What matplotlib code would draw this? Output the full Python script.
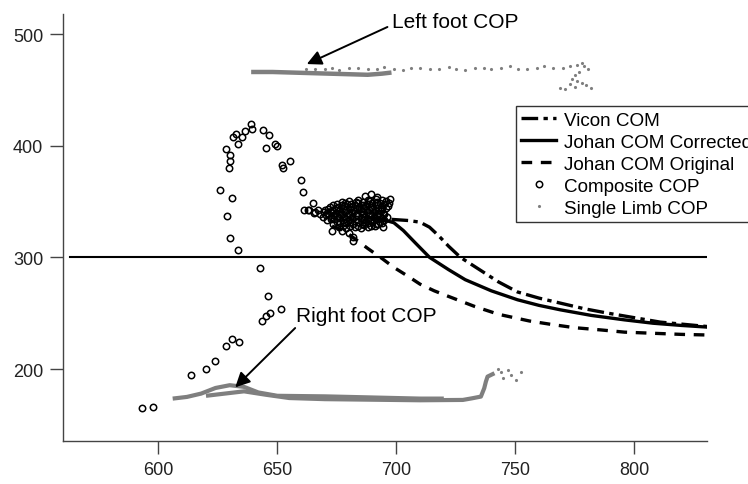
import numpy as np
from matplotlib import pyplot as plt

plt.rcParams['font.family'] = ['Liberation Sans', 'DejaVu Sans']

# COM trajectories (x, y)
vicon_x = [698, 705, 710, 714, 718, 722, 727, 735, 743, 751, 760, 769, 779, 789, 800, 811, 821, 831]
vicon_y = [334, 333, 331.5, 327, 319, 310, 300, 289, 278, 269, 263.5, 259, 254, 250, 246, 242, 240, 238]

corr_x = [688, 694, 699, 703, 708, 714, 722, 729, 740, 751, 760, 769, 782, 796, 808, 820, 831]
corr_y = [336, 334, 331, 324, 313, 300, 289, 280, 270, 262, 257, 253, 248, 244, 241, 239, 237.5]

orig_x = [673, 678, 683, 688, 694, 699, 705, 710, 716, 722, 733, 743, 756, 765, 775, 786, 796, 808, 820, 830]
orig_y = [328, 324, 316, 308, 299, 291, 283, 276, 270, 265, 256, 249, 243, 240, 237, 235, 233, 232, 231, 230.5]

# Composite COP circles
comp_x = [593.1, 597.6, 613.8, 619.9, 624.0, 628.3, 630.9, 634.0, 643.5, 645.3, 647.1, 651.6,
          646.0, 642.6, 633.4, 630.3, 628.9, 630.9, 626.0, 629.5, 630.0, 630.3, 628.5, 633.4,
          631.4, 632.8, 635.0, 636.2, 639.0, 639.4, 644.0, 646.6, 645.2, 649.1, 649.7, 651.8,
          652.3, 655.4, 659.8, 660.7, 665.0, 661.3, 663.3, 665.5, 667.0,
          # dense cluster
          676, 679, 682.5, 685, 688, 691, 694.5,
          673.5, 676.5, 679, 682, 685.5, 688, 691.5, 694,
          671, 674, 677.5, 680, 683, 686.5, 689, 692, 695,
          669, 672.5, 675, 678, 681.5, 684, 687, 690.5, 693, 696,
          668, 671, 674.5, 677, 680, 683.5, 686, 689, 692.5, 695,
          670, 673, 676.5, 679, 682, 685, 688.5, 691, 694,
          672, 675.5, 678, 681, 684.5, 687, 690, 693.5, 696.5,
          675, 678.5, 681, 684, 687.5, 690, 693, 697,
          684, 688, 691.5, 694, 697.5, 687, 689.5, 692,
          673, 677, 682, 682, 680, 666, 663,
          677.5, 680.5, 684, 686.5, 689.5, 692.5,
          675, 678, 680.5, 684, 687, 690, 693,
          672.5, 676, 679, 681.5, 685, 688, 691, 694,
          670.5, 673.5, 676.5, 680, 683, 685.5, 689, 692, 694.5,
          669.5, 672.5, 676, 678.5, 681.5, 685, 687.5, 690.5, 693.5,
          671.5, 674.5, 677.5, 680.5, 683.5, 686.5, 690, 692.5, 695.5,
          673.5, 677, 679.5, 682.5, 686, 688.5, 691.5, 695,
          677, 680, 683, 686, 689, 692, 695.5]
comp_y = [165.0, 166.0, 195.0, 200.0, 207.0, 221.0, 227.0, 224.5, 243.0, 247.5, 250.0, 254.0,
          265.6, 290.5, 306.6, 317.0, 337.0, 352.7, 360.5, 380.0, 386.0, 392.0, 397.0, 401.6,
          407.5, 410.8, 408.0, 413.0, 419.6, 414.8, 414.0, 410.0, 398.0, 401.7, 400.0, 383.0,
          379.6, 386.5, 369.5, 358.4, 349.0, 342.5, 342.0, 340.0, 342.0,
          327, 326, 327.5, 326.5, 327, 328, 327.5,
          330, 331, 330.5, 329.5, 330, 331, 330, 331,
          333, 334, 333.5, 333, 334, 333, 333.5, 334, 333,
          336, 336.5, 337, 336, 336.5, 337, 336, 336.5, 337, 336,
          339, 339.5, 340, 339, 339.5, 340, 339, 339.5, 340, 339,
          342, 342.5, 343, 342, 342.5, 343, 342, 342.5, 343,
          345, 345.5, 346, 345, 345.5, 346, 345, 345.5, 346,
          348, 348.5, 348, 348.5, 348, 349, 348.5, 349,
          351, 351.5, 352, 351, 352, 355, 356.5, 354,
          324, 323.5, 318, 315, 322, 341, 342.5,
          328.5, 328, 328.5, 329, 328.5, 329.5,
          331.5, 332, 331.5, 332, 331.5, 332.5, 332,
          334.5, 335, 334.5, 335.5, 335, 334.5, 335, 335.5,
          337.5, 338, 338.5, 337.5, 338, 338.5, 337.5, 338, 338.5,
          340.5, 341, 341.5, 340.5, 341, 341.5, 340.5, 341, 341.5,
          343.5, 344, 344.5, 343.5, 344, 344.5, 343.5, 344, 344.5,
          346.5, 347, 347.5, 346.5, 347, 347.5, 347, 347.5,
          350, 350.5, 349.5, 350, 350.5, 350, 350.5]

# Single limb COP: dense tracks and sparse samples
left_band_x = [639, 648, 656, 664, 672, 680, 688, 694, 698]
left_band_y = [466, 466, 465.5, 465, 464.5, 464, 463.5, 464.5, 465.5]
right_a_x = [606, 612, 618, 624, 630, 636, 642, 650, 670, 690, 700, 710, 720]
right_a_y = [173.5, 175, 178, 183, 185.5, 184, 179, 176, 175.5, 174.5, 174, 173.5, 173.5]
right_b_x = [620, 628, 636, 645, 655, 670, 690, 710, 728, 732, 735.6, 737, 737.7, 738.4, 741.3]
right_b_y = [176, 178, 180, 177, 174, 173, 172.5, 172, 172.3, 173.8, 175.3, 182.8, 188.7, 193.2, 196.2]

sparse_x = [662, 666, 670, 673, 676, 680, 684, 688, 692, 695, 699, 703, 706, 710, 714, 718,
            722, 725, 729, 733, 737, 740, 744, 748, 751, 755, 759, 762, 766, 770, 773, 776,
            778, 779, 780.5, 777, 775, 774, 776, 778, 780, 782, 775, 771, 769, 773,
            744, 746.8, 748.3, 750.4, 752.5, 742.6, 745]
sparse_y = [469, 468.5, 469, 470, 468, 469.5, 470, 468.5, 469, 470.5, 469, 468, 469.5, 470, 468.5, 469,
            470.5, 469, 468, 470, 469.5, 468.5, 470, 471, 469, 468.5, 470, 471, 469.5, 470, 471.5, 472,
            474, 471, 469, 466, 463, 460, 458, 456, 454, 452, 453, 451, 451.5, 455,
            197.6, 199, 194.6, 190, 197.6, 200, 192]

# horizontal reference line
ref_x = [563, 831]
ref_y = [300, 300]

fig = plt.figure(figsize=(7.48, 4.85), dpi=100)
ax = fig.add_axes([0.0846, 0.0893, 0.861, 0.8797])

grey = '#7f7f7f'
ax.plot(left_band_x, left_band_y, color=grey, lw=3.2, solid_capstyle='butt')
ax.plot(right_a_x, right_a_y, color=grey, lw=3.0, solid_capstyle='butt')
ax.plot(right_b_x, right_b_y, color=grey, lw=3.0, solid_capstyle='butt')

ax.plot(ref_x, ref_y, color='black', lw=1.5)

ax.plot(vicon_x, vicon_y, color='black', lw=2.4, dashes=(5, 1.6, 1.3, 1.6), label='Vicon COM')
ax.plot(corr_x, corr_y, color='black', lw=2.4, label='Johan COM Corrected')
ax.plot(orig_x, orig_y, color='black', lw=2.4, dashes=(3.2, 2.6), label='Johan COM Original')
ax.plot(comp_x, comp_y, ls='none', marker='o', ms=4.6, mfc='none', mec='black', mew=1.1,
        label='Composite COP')
ax.plot(sparse_x, sparse_y, ls='none', marker='.', ms=2.5, color=grey, label='Single Limb COP')

ax.annotate('', xy=(662.4, 473.1), xytext=(696.3, 506.3),
            arrowprops=dict(arrowstyle='-|>', color='black', lw=1.4, mutation_scale=22,
                            shrinkA=0, shrinkB=0))
ax.text(698.4, 506.5, 'Left foot COP', fontsize=15, va='baseline', ha='left')
ax.annotate('', xy=(632.3, 183.6), xytext=(657.5, 236.7),
            arrowprops=dict(arrowstyle='-|>', color='black', lw=1.4, mutation_scale=22,
                            shrinkA=0, shrinkB=0))
ax.text(657.7, 242.7, 'Right foot COP', fontsize=15, va='baseline', ha='left')

ax.set_xlim(560, 830.8)
ax.set_ylim(135.8, 517.9)
ax.set_xticks([600, 650, 700, 750, 800])
ax.set_yticks([200, 300, 400, 500])
for s in ['top', 'right']:
    ax.spines[s].set_visible(False)
for s in ['left', 'bottom']:
    ax.spines[s].set_color('#444444')
    ax.spines[s].set_linewidth(1.0)
ax.tick_params(direction='out', length=9.5, width=1.0, color='#444444',
               labelsize=13, labelcolor='#222222', pad=5)

# legend runs past the right edge of the figure, as in the original
leg = ax.legend(loc='upper left', bbox_to_anchor=(0.6894, 0.7794), bbox_transform=fig.transFigure,
                borderaxespad=0, fontsize=13.6, fancybox=False, framealpha=1, edgecolor='#333333',
                handlelength=1.85, handletextpad=0.43, labelspacing=0.25, borderpad=0.3,
                markerscale=1.0)
leg.get_frame().set_linewidth(1.0)

fig.savefig('out.png', dpi=100)
